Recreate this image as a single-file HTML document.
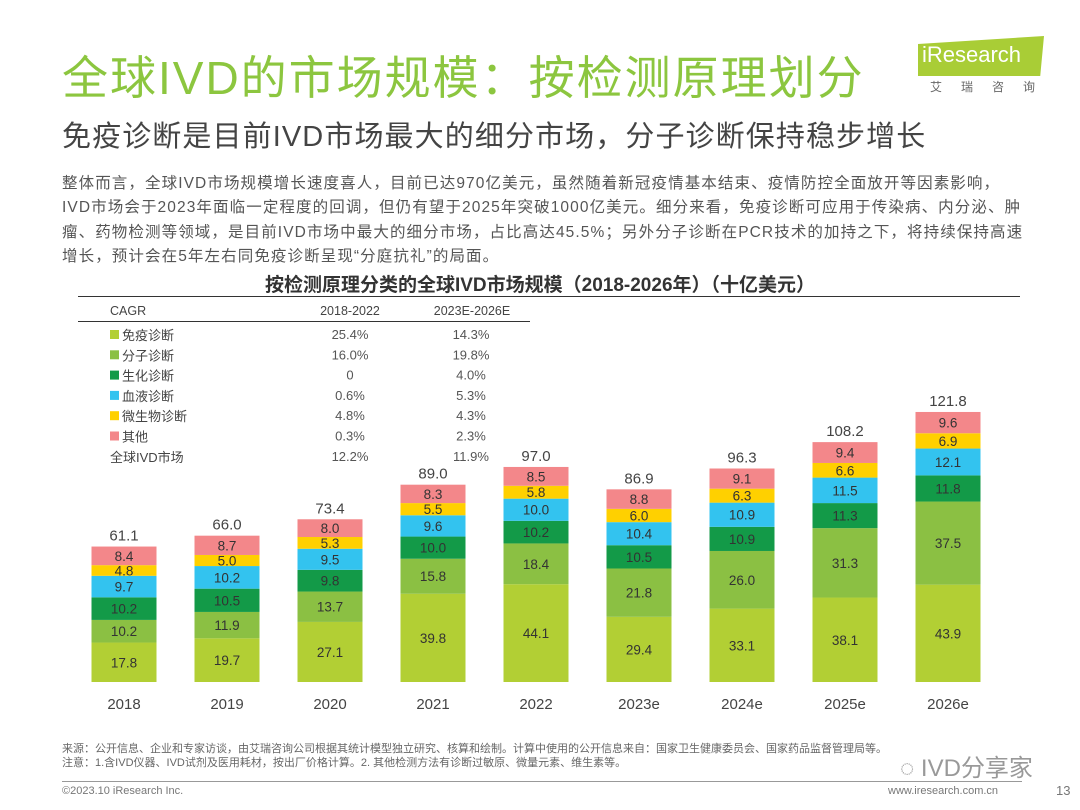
<!DOCTYPE html>
<html><head><meta charset="utf-8"><style>
body{margin:0;width:1080px;height:810px;background:#fff;font-family:"Liberation Sans","Noto Sans CJK SC",sans-serif;position:relative;overflow:hidden}
.a{position:absolute;white-space:nowrap}
</style></head><body>
<div class="a" style="left:62px;top:42px;font-size:46px;color:#8cc63f;letter-spacing:2px">全球IVD的市场规模：按检测原理划分</div>
<div class="a" style="left:918px;top:36px;width:126px;height:40px;background:#a9cd36;clip-path:polygon(0 20%,100% 0,97% 100%,0 100%)"></div>
<div class="a" style="left:922px;top:42px;font-size:22px;color:#fff">iResearch</div>
<div class="a" style="left:930px;top:78px;font-size:12px;color:#666;letter-spacing:19px">艾瑞咨询</div>
<div class="a" style="left:62px;top:113px;font-size:29px;color:#444;letter-spacing:1.1px">免疫诊断是目前IVD市场最大的细分市场，分子诊断保持稳步增长</div>
<div class="a" style="left:62px;top:172px;font-size:15.5px;color:#555;line-height:24.3px;letter-spacing:1.1px">整体而言，全球IVD市场规模增长速度喜人，目前已达970亿美元，虽然随着新冠疫情基本结束、疫情防控全面放开等因素影响，<br>IVD市场会于2023年面临一定程度的回调，但仍有望于2025年突破1000亿美元。细分来看，免疫诊断可应用于传染病、内分泌、肿<br>瘤、药物检测等领域，是目前IVD市场中最大的细分市场，占比高达45.5%；另外分子诊断在PCR技术的加持之下，将持续保持高速<br>增长，预计会在5年左右同免疫诊断呈现“分庭抗礼”的局面。</div>
<div class="a" style="left:0;width:1080px;text-align:center;top:270px;font-size:19px;font-weight:bold;color:#333">按检测原理分类的全球IVD市场规模（2018-2026年）（十亿美元）</div>
<div class="a" style="left:78px;top:296px;width:942px;height:1px;background:#333"></div>
<svg class="a" style="left:0;top:0" width="1080" height="810" id="svg"></svg>
<div class="a" style="left:62px;top:742px;font-size:11px;color:#666;line-height:14px">来源：公开信息、企业和专家访谈，由艾瑞咨询公司根据其统计模型独立研究、核算和绘制。计算中使用的公开信息来自：国家卫生健康委员会、国家药品监督管理局等。<br>注意：1.含IVD仪器、IVD试剂及医用耗材，按出厂价格计算。2. 其他检测方法有诊断过敏原、微量元素、维生素等。</div>
<div class="a" style="left:900px;top:748px;font-size:24px;color:#999">◌ IVD分享家</div>
<div class="a" style="left:62px;top:781px;width:960px;height:1px;background:#999"></div>
<div class="a" style="left:62px;top:785px;font-size:11px;color:#777">©2023.10 iResearch Inc.</div>
<div class="a" style="left:888px;top:785px;font-size:11px;color:#777">www.iresearch.com.cn</div>
<div class="a" style="left:1056px;top:783px;font-size:13px;color:#777">13</div>
<script>
const years=["2018","2019","2020","2021","2022","2023e","2024e","2025e","2026e"];
const immune=[17.8,19.7,27.1,39.8,44.1,29.4,33.1,38.1,43.9];
const molecular=[10.2,11.9,13.7,15.8,18.4,21.8,26.0,31.3,37.5];
const biochem=[10.2,10.5,9.8,10.0,10.2,10.5,10.9,11.3,11.8];
const blood=[9.7,10.2,9.5,9.6,10.0,10.4,10.9,11.5,12.1];
const micro=[4.8,5.0,5.3,5.5,5.8,6.0,6.3,6.6,6.9];
const other=[8.4,8.7,8.0,8.3,8.5,8.8,9.1,9.4,9.6];
const totals=["61.1","66.0","73.4","89.0","97.0","86.9","96.3","108.2","121.8"];
const segNames=["免疫诊断","分子诊断","生化诊断","血液诊断","微生物诊断","其他"];
const cagr1=["25.4%","16.0%","0","0.6%","4.8%","0.3%","12.2%"];
const cagr2=["14.3%","19.8%","4.0%","5.3%","4.3%","2.3%","11.9%"];
const series=[immune,molecular,biochem,blood,micro,other];
const colors=["#b2cf34","#8bc043","#139a48","#33c3ef","#ffd000","#f3878a"];
const svg=document.getElementById('svg');const NS="http://www.w3.org/2000/svg";
const base=682,k=2.217,x0=124,step=103,bw=65;
const X=i=>x0+i*step, Y=v=>base-v*k;
function mk(t,a,txt){const e=document.createElementNS(NS,t);for(const n in a)e.setAttribute(n,a[n]);if(txt!=null)e.textContent=txt;svg.appendChild(e);return e;}
years.forEach((yr,i)=>{let cum=0;
 series.forEach((s,j)=>{const v=s[i];
  const r=mk('rect',{x:X(i)-bw/2,y:Y(cum+v),width:bw,height:v*k,fill:colors[j]});
  
  
  const t=mk('text',{x:X(i),y:Y(cum+v/2)+5,'text-anchor':'middle','font-size':13.5,fill:'#333'},v.toFixed(1));
  
  
  cum+=v;});
 const tt=mk('text',{x:X(i),y:Y(cum)-6,'text-anchor':'middle','font-size':15,fill:'#444'},totals[i]);
 
 
 const yl=mk('text',{x:X(i),y:709,'text-anchor':'middle','font-size':15,fill:'#444'},yr);
 
 
});
const h=mk('text',{x:110,y:315,'font-size':12.5,fill:'#444'},'CAGR');
mk('text',{x:350,y:315,'font-size':12.5,fill:'#444','text-anchor':'middle'},'2018-2022');
mk('text',{x:472,y:315,'font-size':12.5,fill:'#444','text-anchor':'middle'},'2023E-2026E');
mk('rect',{x:78,y:321,width:452,height:1,fill:'#333'});
const labels=segNames.concat(["全球IVD市场"]);
labels.forEach((n,r)=>{const y=340+r*20.3;
 if(r<6){const sq=mk('rect',{x:110,y:y-10,width:9,height:9,fill:colors[r]});}
 const lt=mk('text',{x:r<6?122:110,y:y,'font-size':13,fill:'#444'},n);
 
 
 mk('text',{x:350,y:y-1,'font-size':13,fill:'#555','text-anchor':'middle'},cagr1[r]);
 mk('text',{x:471,y:y-1,'font-size':13,fill:'#555','text-anchor':'middle'},cagr2[r]);
});
</script>
</body></html>
